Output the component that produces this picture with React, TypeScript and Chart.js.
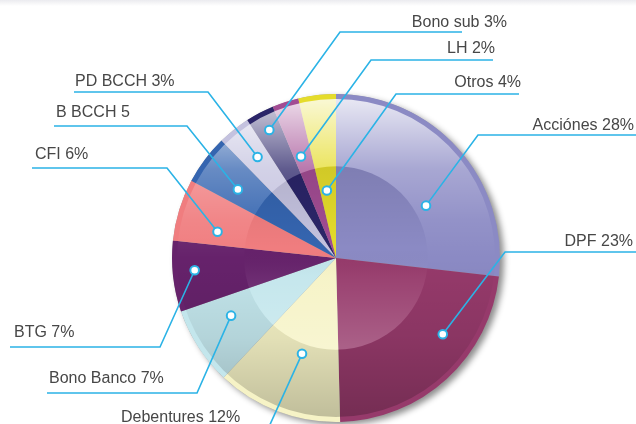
import React, { useEffect, useRef } from "react";
import { Chart, registerables } from "chart.js";

Chart.register(...registerables);

const LABELS = [
  "Acciónes 28%",
  "DPF 23%",
  "Debentures 12%",
  "Bono Banco 7%",
  "BTG 7%",
  "CFI 6%",
  "B BCCH 5",
  "PD BCCH 3%",
  "Bono sub 3%",
  "LH 2%",
  "Otros 4%",
];

// slice shares
const VALUES = [26.8, 22.8, 12.4, 7.7, 7.0, 6.1, 4.9, 3.2, 2.8, 2.6, 3.7];

const COLORS = [
  "#8B8AC4",
  "#963A6B",
  "#F6F3C6",
  "#C3E6EC",
  "#66226B",
  "#F07D7F",
  "#3565B0",
  "#C4C2DF",
  "#2B2569",
  "#A24C93",
  "#E5DC2B",
];

// annotation layout: dot position within slice (fraction of angle, fraction of radius),
// elbow point, end of horizontal rule, text anchor
type LabelLayout = {
  t: number;
  f: number;
  ex: number;
  ey: number;
  endX: number;
  tx: number;
  ty: number;
  align: CanvasTextAlign;
};

const LABEL_LAYOUT: LabelLayout[] = [
  { t: 0.62, f: 0.635, ex: 478, ey: 135, endX: 636, tx: 634, ty: 126, align: "right" },
  { t: 0.354, f: 0.8, ex: 505, ey: 252, endX: 636, tx: 633, ty: 242, align: "right" },
  { t: 0.47, f: 0.62, ex: 263, ey: 440, endX: 263, tx: 121, ty: 418, align: "left" },
  { t: 0.65, f: 0.73, ex: 197, ey: 393, endX: 47, tx: 49, ty: 379, align: "left" },
  { t: 0.56, f: 0.865, ex: 160, ey: 347, endX: 10, tx: 14, ty: 333, align: "left" },
  { t: 0.29, f: 0.74, ex: 167, ey: 168, endX: 32, tx: 35, ty: 155, align: "left" },
  { t: 0.39, f: 0.73, ex: 187, ey: 126, endX: 54, tx: 56, ty: 113, align: "left" },
  { t: 0.56, f: 0.78, ex: 208, ey: 92, endX: 74, tx: 75, ty: 82, align: "left" },
  { t: 0.52, f: 0.88, ex: 340, ey: 32, endX: 462, tx: 507, ty: 23, align: "right" },
  { t: 0.39, f: 0.655, ex: 371, ey: 60, endX: 493, tx: 495, ty: 49, align: "right" },
  { t: 0.42, f: 0.415, ex: 396, ey: 94, endX: 519, tx: 521, ty: 83, align: "right" },
];

const LINE_COLOR = "#2BB3E6";
const TEXT_COLOR = "#474747";

const glossPlugin = {
  id: "glossAndLabels",
  beforeDatasetsDraw(chart: any) {
    const meta = chart.getDatasetMeta(0);
    const a0 = meta.data[0];
    if (!a0) return;
    const { x, y, outerRadius: R } = a0.getProps(["x", "y", "outerRadius"], true);
    const ctx = chart.ctx as CanvasRenderingContext2D;
    ctx.save();
    ctx.shadowColor = "rgba(0,0,0,0.45)";
    ctx.shadowBlur = 6;
    ctx.shadowOffsetX = 4;
    ctx.shadowOffsetY = 3;
    ctx.beginPath();
    ctx.arc(x, y, R, 0, Math.PI * 2);
    ctx.fillStyle = "#a0a0a0";
    ctx.fill();
    ctx.restore();
  },
  afterDatasetsDraw(chart: any) {
    const meta = chart.getDatasetMeta(0);
    const a0 = meta.data[0];
    if (!a0) return;
    const { x, y, outerRadius: R } = a0.getProps(["x", "y", "outerRadius"], true);
    const ctx = chart.ctx as CanvasRenderingContext2D;
    const ri = R - 5;
    const rc = R * 0.56;

    // glossy annulus
    ctx.save();
    ctx.beginPath();
    ctx.arc(x, y, ri, 0, Math.PI * 2);
    ctx.arc(x, y, rc, 0, Math.PI * 2, true);
    ctx.clip();
    const gw = ctx.createLinearGradient(0, y - ri, 0, y + ri);
    gw.addColorStop(0, "rgba(255,255,255,0.8)");
    gw.addColorStop(0.1, "rgba(255,255,255,0.55)");
    gw.addColorStop(0.22, "rgba(255,255,255,0.25)");
    gw.addColorStop(0.38, "rgba(255,255,255,0.07)");
    gw.addColorStop(0.5, "rgba(255,255,255,0)");
    ctx.fillStyle = gw;
    ctx.fillRect(x - R, y - R, 2 * R, 2 * R);
    const gb = ctx.createLinearGradient(0, y - ri, 0, y + ri);
    gb.addColorStop(0.5, "rgba(0,0,0,0)");
    gb.addColorStop(0.75, "rgba(0,0,0,0.08)");
    gb.addColorStop(1, "rgba(0,0,0,0.22)");
    ctx.fillStyle = gb;
    ctx.fillRect(x - R, y - R, 2 * R, 2 * R);
    ctx.restore();

    // inner disc
    ctx.save();
    ctx.beginPath();
    ctx.arc(x, y, rc, 0, Math.PI * 2);
    ctx.clip();
    const gi = ctx.createLinearGradient(0, y - rc, 0, y + rc);
    gi.addColorStop(0, "rgba(0,0,0,0.09)");
    gi.addColorStop(0.45, "rgba(0,0,0,0.0)");
    gi.addColorStop(0.6, "rgba(255,255,255,0.04)");
    gi.addColorStop(1, "rgba(255,255,255,0.2)");
    ctx.fillStyle = gi;
    ctx.fillRect(x - rc, y - rc, 2 * rc, 2 * rc);
    ctx.restore();
  },
  afterDraw(chart: any) {
    const meta = chart.getDatasetMeta(0);
    const ctx = chart.ctx as CanvasRenderingContext2D;
    const dots: [number, number][] = [];
    ctx.save();
    ctx.strokeStyle = LINE_COLOR;
    ctx.lineWidth = 1.6;
    meta.data.forEach((arc: any, i: number) => {
      const L = LABEL_LAYOUT[i];
      if (!L) return;
      const p = arc.getProps(["x", "y", "startAngle", "endAngle", "outerRadius"], true);
      const ang = p.startAngle + L.t * (p.endAngle - p.startAngle);
      const dx = p.x + Math.cos(ang) * L.f * p.outerRadius;
      const dy = p.y + Math.sin(ang) * L.f * p.outerRadius;
      dots.push([dx, dy]);
      ctx.beginPath();
      ctx.moveTo(dx, dy);
      ctx.lineTo(L.ex, L.ey);
      ctx.lineTo(L.endX, L.ey);
      ctx.stroke();
    });
    dots.forEach(([dx, dy]) => {
      ctx.beginPath();
      ctx.arc(dx, dy, 4.3, 0, Math.PI * 2);
      ctx.fillStyle = "#ffffff";
      ctx.fill();
      ctx.lineWidth = 2;
      ctx.strokeStyle = LINE_COLOR;
      ctx.stroke();
    });
    ctx.font = "16px 'Liberation Sans', Arial, sans-serif";
    ctx.fillStyle = TEXT_COLOR;
    ctx.textBaseline = "middle";
    LABELS.forEach((txt, i) => {
      const L = LABEL_LAYOUT[i];
      ctx.textAlign = L.align;
      ctx.fillText(txt, L.tx, L.ty);
    });
    ctx.restore();
  },
};

export default function App() {
  const canvasRef = useRef<HTMLCanvasElement | null>(null);

  useEffect(() => {
    const canvas = canvasRef.current;
    if (!canvas) return;
    const chart = new Chart(canvas, {
      type: "pie",
      data: {
        labels: LABELS,
        datasets: [
          {
            data: VALUES,
            backgroundColor: COLORS,
            borderWidth: 0,
            hoverOffset: 0,
            offset: 0,
          },
        ],
      },
      options: {
        responsive: false,
        animation: false,
        events: [],
        layout: { padding: { left: 172, right: 136, top: 94, bottom: 2 } },
        plugins: {
          legend: { display: false },
          tooltip: { enabled: false },
        },
      },
      plugins: [glossPlugin],
    });
    return () => chart.destroy();
  }, []);

  return (
    <div
      style={{
        position: "fixed",
        left: 0,
        top: 0,
        width: 636,
        height: 424,
        background: "linear-gradient(to bottom, #ebebef 0px, #ffffff 6px)",
        overflow: "hidden",
      }}
    >
      <canvas ref={canvasRef} width={636} height={424} style={{ display: "block" }} />
    </div>
  );
}
